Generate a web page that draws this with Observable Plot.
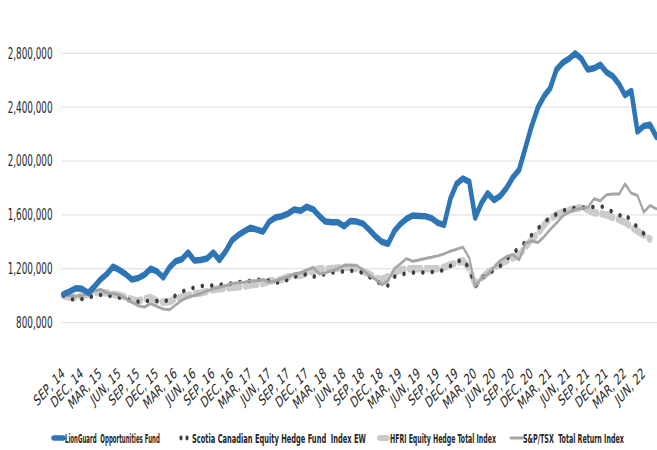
<!DOCTYPE html>
<html><head><meta charset="utf-8">
<script src="https://cdn.jsdelivr.net/npm/d3@7"></script>
<script src="https://cdn.jsdelivr.net/npm/@observablehq/plot@0.6"></script>
<style>
html,body{margin:0;padding:0;background:#fff;overflow:hidden;width:657px;height:450px;}
#wrap{position:absolute;left:0;top:0;width:938.6px;height:420px;transform:scaleX(0.7);transform-origin:0 0;}
#legend{position:absolute;left:0;top:426px;}
</style></head><body><div id="wrap"><div id="chart"></div></div><svg id="legend" width="657" height="24"></svg>
<script>
// Monthly series, Sep 2014 onward, values in thousands
const seriesNames = ["LionGuard  Opportunities Fund","Scotia Canadian Equity Hedge Fund  Index EW","HFRI Equity Hedge Total Index","S&P/TSX  Total Return Index"];
const lionGuard = [1010,1030,1055,1050,1020,1070,1120,1160,1215,1190,
 1160,1120,1130,1155,1200,1180,1135,1210,1255,1270,
 1320,1260,1265,1275,1320,1265,1330,1410,1450,1480,
 1505,1490,1475,1550,1580,1590,1610,1640,1630,1660,
 1640,1590,1550,1545,1545,1515,1555,1550,1535,1490,
 1440,1400,1385,1480,1530,1570,1595,1592,1590,1575,
 1540,1525,1720,1830,1870,1845,1580,1690,1760,1710,
 1740,1800,1880,1935,2100,2260,2400,2485,2540,2680,
 2730,2760,2800,2760,2680,2690,2715,2660,2630,2570,
 2490,2520,2220,2260,2270,2180];
const scotia = [1000,975,970,975,985,1000,1005,1000,995,985,
 975,960,955,955,965,960,955,970,1000,1030,
 1045,1060,1070,1075,1075,1080,1085,1090,1100,1105,
 1110,1120,1115,1110,1095,1100,1120,1140,1150,1160,
 1140,1150,1160,1170,1175,1180,1185,1180,1170,1140,
 1110,1085,1075,1140,1155,1165,1170,1175,1170,1175,
 1180,1190,1220,1250,1270,1200,1065,1130,1160,1190,
 1220,1270,1320,1350,1400,1450,1500,1545,1580,1605,
 1630,1645,1650,1655,1655,1660,1665,1650,1620,1595,
 1610,1550,1510,1460,1410];
const hfri = [1000,990,985,1000,1010,1020,1025,1020,1010,1000,
 990,970,960,975,985,960,950,955,975,990,
 1000,1015,1020,1030,1045,1050,1055,1060,1065,1070,
 1080,1085,1090,1110,1110,1120,1140,1150,1150,1170,
 1180,1200,1200,1200,1205,1210,1210,1200,1180,1160,
 1130,1120,1140,1170,1190,1200,1200,1200,1200,1200,
 1200,1210,1230,1240,1260,1200,1080,1130,1170,1200,
 1240,1260,1280,1300,1360,1420,1460,1530,1570,1600,
 1620,1635,1645,1655,1640,1615,1610,1600,1580,1565,
 1545,1510,1480,1450,1420];
const spTsx = [1000,1000,995,1000,1015,1035,1045,1020,1015,1005,
 980,950,925,915,940,920,900,895,930,965,
 990,1000,1015,1035,1050,1060,1075,1090,1095,1100,
 1110,1110,1120,1100,1110,1125,1140,1160,1170,1190,
 1210,1160,1170,1185,1200,1225,1225,1225,1190,1150,
 1120,1080,1110,1200,1235,1275,1255,1265,1275,1285,
 1295,1310,1330,1345,1360,1280,1070,1130,1160,1210,
 1260,1290,1305,1265,1390,1405,1395,1440,1490,1540,
 1590,1620,1640,1650,1655,1720,1705,1750,1755,1755,
 1830,1760,1745,1620,1670,1645];
const tickLabels = ["SEP, 14","DEC, 14","MAR, 15","JUN, 15","SEP, 15","DEC, 15","MAR, 16","JUN, 16",
 "SEP, 16","DEC, 16","MAR, 17","JUN, 17","SEP, 17","DEC, 17","MAR, 18","JUN, 18",
 "SEP, 18","DEC, 18","MAR, 19","JUN, 19","SEP, 19","DEC, 19","MAR, 20","JUN, 20",
 "SEP, 20","DEC, 20","MAR, 21","JUN, 21","SEP, 21","DEC, 21","MAR, 22","JUN, 22"];
const yTicks = [800000,1200000,1600000,2000000,2400000,2800000];
const colors = ["#2E75B6","#3F3F3F","#CBCBCB","#A5A5A5"];

const S = 0.7, W = 657 / S;
const monthDate = i => new Date(Date.UTC(2014, 8 + i, 1));
const allSeries = [lionGuard, scotia, hfri, spTsx];
const rows = allSeries.map((arr, s) => arr.map((v, i) => ({date: monthDate(i), value: v * 1000, series: seriesNames[s]})));
const tickDates = tickLabels.map((_, k) => monthDate(3 * k));
const font = '"DejaVu Sans Condensed",sans-serif';

const chart = Plot.plot({
  width: W, height: 420,
  marginLeft: 62 / S, marginRight: 0, marginTop: 26, marginBottom: 98,
  style: {fontFamily: font, color: "#262626", background: "#fff"},
  x: {type: "utc", domain: [monthDate(0), monthDate(95)], range: [63 / S, 656 / S]},
  y: {domain: [800000, 3000000]},
  marks: [
    Plot.ruleY(yTicks, {stroke: "#E3E3E3", strokeWidth: 1.2}),
    Plot.axisY({ticks: yTicks, tickFormat: d3.format(","), tickSize: 0, tickPadding: 14, label: null, fontSize: 16.5, fontFamily: font}),
    Plot.axisX({ticks: tickDates, tickFormat: (d, i) => tickLabels[i], tickRotate: -38, tickSize: 0, tickPadding: 49, label: null, fontSize: 15, fontFamily: font}),
    Plot.line(rows[2], {x: "date", y: "value", stroke: colors[2], strokeWidth: 7.5, strokeDasharray: "16,8", strokeLinejoin: "round"}),
    Plot.line(rows[1], {x: "date", y: "value", stroke: colors[1], strokeWidth: 4.5, strokeDasharray: "0.5,13", strokeLinecap: "round", strokeLinejoin: "round"}),
    Plot.line(rows[3], {x: "date", y: "value", stroke: colors[3], strokeWidth: 3, strokeLinejoin: "round"}),
    Plot.line(rows[0], {x: "date", y: "value", stroke: colors[0], strokeWidth: 6.5, strokeLinejoin: "round", strokeLinecap: "round"})
  ]
});
document.getElementById("chart").appendChild(chart);

// Make y tick labels taller/narrower like the reference, keeping their right anchor
d3.select(chart).selectAll('g[aria-label="y-axis tick label"] text').each(function() {
  const x = +(this.getAttribute("x") || 0);
  const tr = this.getAttribute("transform") || "";
  this.setAttribute("transform", `${tr} translate(${x},0) scale(0.85,1) translate(${-x},0)`);
});

// Legend (real pixel layout); text compressed horizontally like the chart
const legendItems = [
  {sx: 52, tx: 65, tw: 95},
  {sx: 178, tx: 192, tw: 174},
  {sx: 377, tx: 390, tw: 106},
  {sx: 510, tx: 523, tw: 101}
];
const lg = d3.select("#legend");
legendItems.forEach((it, i) => {
  if (i === 0) lg.append("line").attr("x1", it.sx + 2).attr("x2", it.sx + 11).attr("y1", 12).attr("y2", 12)
    .attr("stroke", colors[0]).attr("stroke-width", 5.5).attr("stroke-linecap", "round");
  if (i === 1) [it.sx + 3, it.sx + 9].forEach(cx => lg.append("ellipse").attr("cx", cx).attr("cy", 12).attr("rx", 1.6).attr("ry", 2.4).attr("fill", colors[1]));
  if (i === 2) lg.append("line").attr("x1", it.sx + 3).attr("x2", it.sx + 10).attr("y1", 12).attr("y2", 12)
    .attr("stroke", colors[2]).attr("stroke-width", 6).attr("stroke-linecap", "round");
  if (i === 3) lg.append("line").attr("x1", it.sx + 1).attr("x2", it.sx + 12).attr("y1", 12).attr("y2", 12)
    .attr("stroke", colors[3]).attr("stroke-width", 3).attr("stroke-linecap", "round");
  const g = lg.append("g");
  const t = g.append("text").attr("x", 0).attr("y", 0)
    .attr("font-family", font).attr("font-weight", "bold").attr("font-size", 13).attr("fill", "#262626")
    .style("white-space", "pre").text(seriesNames[i]);
  const natural = t.node().getComputedTextLength();
  g.attr("transform", `translate(${it.tx},16.5) scale(${it.tw / natural},1)`);
});
</script></body></html>
